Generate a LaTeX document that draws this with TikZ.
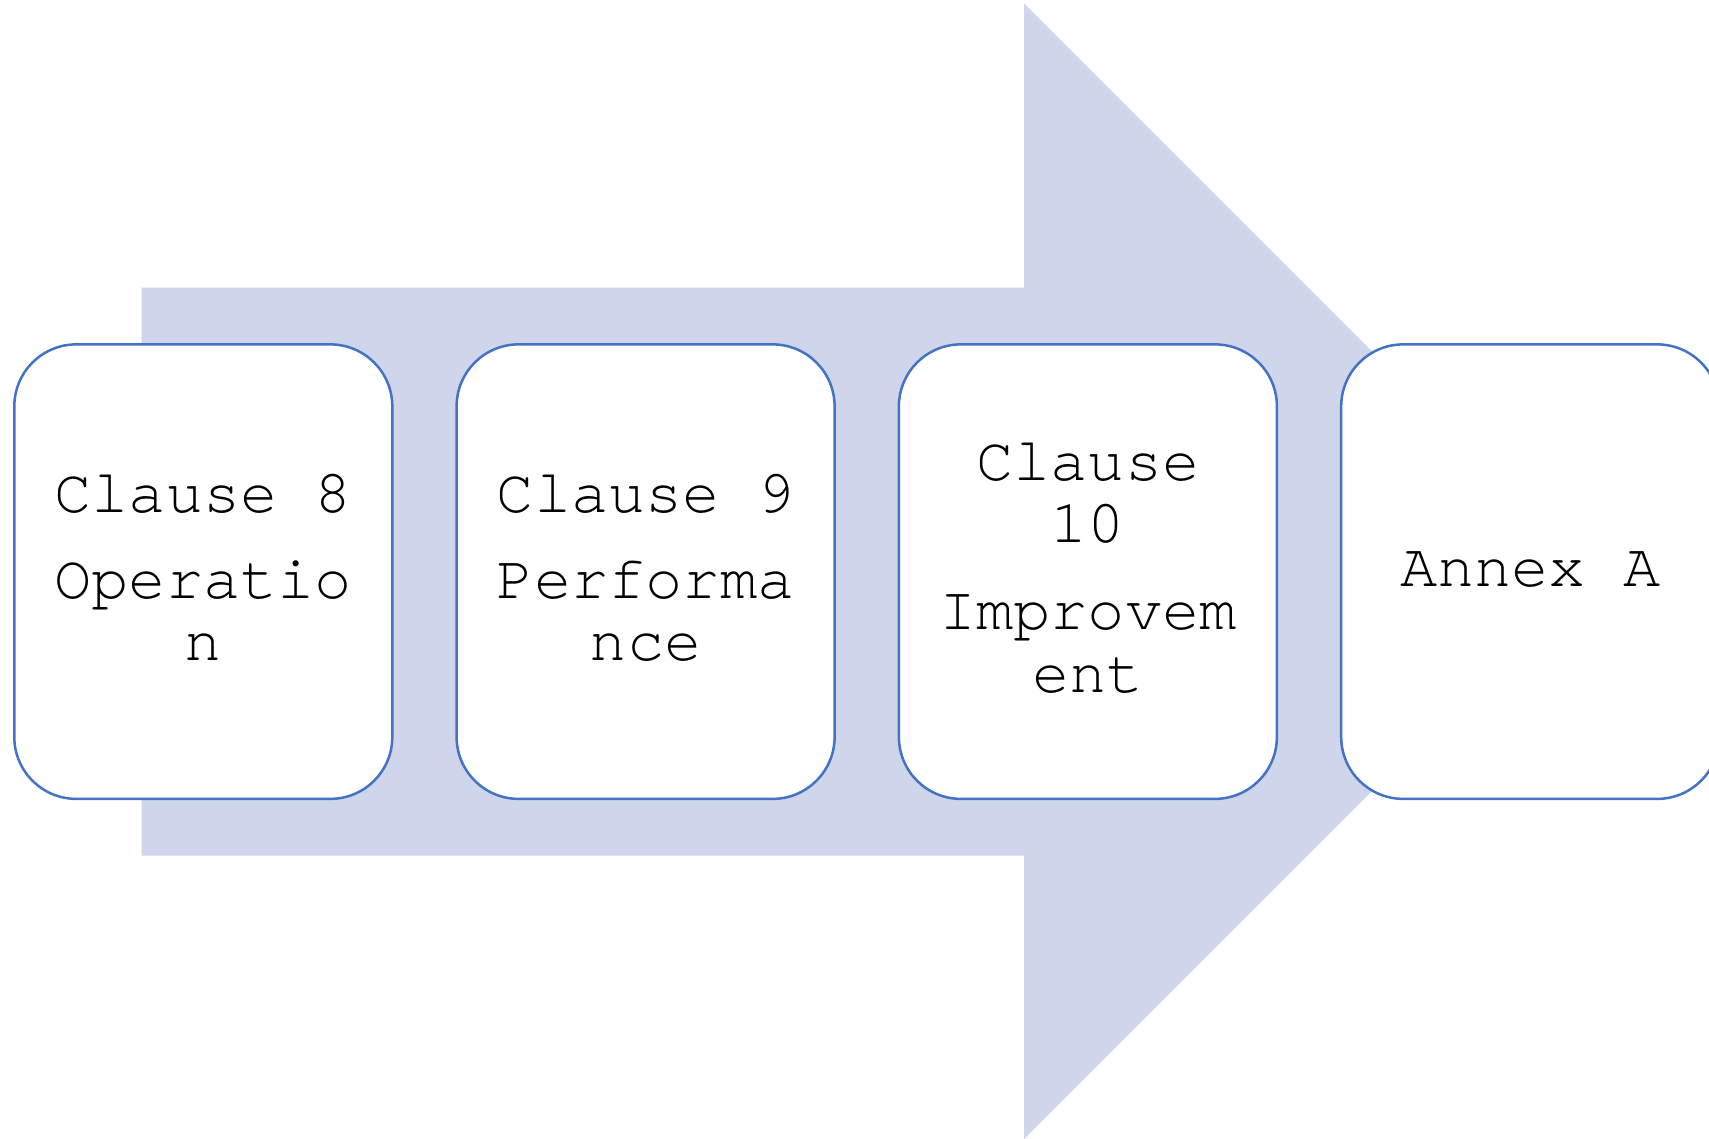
\documentclass[tikz,border=0pt]{standalone}
\usepackage{fontspec}
\newfontfamily\cour{TeX Gyre Cursor}
\definecolor{arrowfill}{RGB}{207,213,234}
\definecolor{boxline}{RGB}{68,114,196}
\begin{document}
\begin{tikzpicture}[x=1pt,y=1pt,
  card/.style={draw=boxline, line width=2.5pt, fill=white, rounded corners=62pt,
    minimum width=378pt, minimum height=454.5pt, inner sep=0pt},
  lbl/.style={anchor=base, inner sep=0pt, font=\cour\fontsize{62}{62}\selectfont}]
\useasboundingbox (0,0) rectangle (1709,1139);
\clip (0,0) rectangle (1709,1139);
% big background arrow
\fill[arrowfill] (141.7,283.4) -- (141.7,851.3) -- (1024,851.3) -- (1024,1135.7)
  -- (1592,567.7) -- (1024,0) -- (1024,283.4) -- cycle;
% cards
\node[card] (b1) at (203.3,567.35) {};
\node[card] (b2) at (645.6,567.35) {};
\node[card] (b3) at (1087.9,567.35) {};
\node[card] (b4) at (1530.2,567.35) {};
% texts
\node[lbl] (t1a) at (203.3,626) {Clause 8};
\node[lbl] (t1b) at (203.3,540.4) {Operatio};
\node[lbl] (t1c) at (203.3,478) {n};
\node[lbl] (t2a) at (645.6,626) {Clause 9};
\node[lbl] (t2b) at (645.6,540.4) {Performa};
\node[lbl] (t2c) at (645.6,478) {nce};
\node[lbl] (t3a) at (1087.9,658) {Clause};
\node[lbl] (t3b) at (1087.9,596) {10};
\node[lbl] (t3c) at (1087.9,509) {Improvem};
\node[lbl] (t3d) at (1087.9,446.3) {ent};
\node[lbl] (t4a) at (1530.2,552.3) {Annex A};
\end{tikzpicture}
\end{document}
